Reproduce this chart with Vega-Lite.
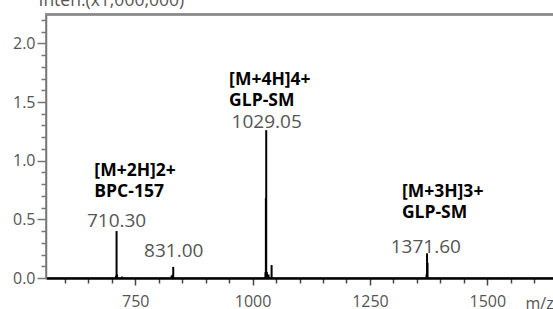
{
  "$schema": "https://vega.github.io/schema/vega-lite/v6.json",
  "width": 508,
  "height": 264,
  "autosize": {"type": "none"},
  "padding": {"left": 46, "top": 14, "right": 0, "bottom": 31},
  "background": "white",
  "view": {"stroke": "#999", "strokeWidth": 2},
  "config": {"font": "Open Sans"},
  "resolve": {"axis": {"x": "independent"}},
  "datasets": {
    "peaks": [
      {"mz": 709.3, "intensity": 0.02},
      {"mz": 710.3, "intensity": 0.40},
      {"mz": 711.3, "intensity": 0.03},
      {"mz": 722, "intensity": 0.012},
      {"mz": 827.5, "intensity": 0.02},
      {"mz": 829.5, "intensity": 0.028},
      {"mz": 831.0, "intensity": 0.095},
      {"mz": 1027.5, "intensity": 0.05},
      {"mz": 1028.3, "intensity": 0.68},
      {"mz": 1029.05, "intensity": 1.26},
      {"mz": 1030.5, "intensity": 0.05},
      {"mz": 1034, "intensity": 0.03},
      {"mz": 1040.5, "intensity": 0.11},
      {"mz": 1370.5, "intensity": 0.03},
      {"mz": 1371.6, "intensity": 0.21},
      {"mz": 1372.6, "intensity": 0.13}
    ],
    "border": [
      {"mz": 560, "mz2": 1642, "intensity": 2.243}
    ],
    "peakLabels": [
      {"mz": 710.3, "intensity": 0.435, "text": "710.30"},
      {"mz": 832, "intensity": 0.179, "text": "831.00"},
      {"mz": 1030, "intensity": 1.279, "text": "1029.05"},
      {"mz": 1369, "intensity": 0.213, "text": "1371.60"}
    ],
    "annotations": [
      {"mz": 663, "intensity": 0.87, "text": "[M+2H]2+"},
      {"mz": 663, "intensity": 0.69, "text": "BPC-157"},
      {"mz": 950, "intensity": 1.645, "text": "[M+4H]4+"},
      {"mz": 950, "intensity": 1.466, "text": "GLP-SM"},
      {"mz": 1318, "intensity": 0.69, "text": "[M+3H]3+"},
      {"mz": 1318, "intensity": 0.51, "text": "GLP-SM"}
    ]
  },
  "layer": [
    {
      "data": {"name": "peaks"},
      "mark": {"type": "rule", "color": "black", "strokeWidth": 2},
      "encoding": {
        "x": {
          "field": "mz",
          "type": "quantitative",
          "scale": {"domain": [560, 1642], "nice": false, "zero": false},
          "axis": {
            "values": [600, 650, 700, 750, 800, 850, 900, 950, 1000, 1050, 1100, 1150, 1200, 1250, 1300, 1350, 1400, 1450, 1500, 1550, 1600],
            "tickCount": 100,
            "labelExpr": "datum.value % 250 === 0 ? datum.label : ''",
            "format": "d",
            "labelOverlap": false,
            "labelFlush": false,
            "grid": false,
            "tickSize": {"condition": {"test": "datum.value % 250 === 0", "value": 7}, "value": 5},
            "tickWidth": 1.5,
            "tickColor": "#444",
            "domainColor": "black",
            "domainWidth": 2.5,
            "labelFontSize": 16,
            "labelColor": "#555",
            "labelPadding": 8,
            "title": "m/z",
            "titleX": 479,
            "titleY": 17,
            "titleAnchor": null,
            "titleAlign": "left",
            "titleBaseline": "top",
            "titleFontWeight": "normal",
            "titleFontSize": 16,
            "titleColor": "#555"
          }
        },
        "y": {
          "field": "intensity",
          "type": "quantitative",
          "scale": {"domain": [0, 2.25], "nice": false},
          "axis": {
            "values": [0, 0.1, 0.2, 0.3, 0.4, 0.5, 0.6, 0.7, 0.8, 0.9, 1, 1.1, 1.2, 1.3, 1.4, 1.5, 1.6, 1.7, 1.8, 1.9, 2, 2.1, 2.2],
            "tickCount": 100,
            "labelExpr": "round(datum.value * 10) % 5 === 0 ? format(datum.value, '.1f') : ''",
            "labelOverlap": false,
            "labelFlush": false,
            "grid": false,
            "tickSize": {"condition": {"test": "round(datum.value * 10) % 5 === 0", "value": 9}, "value": 5},
            "tickColor": "#777",
            "tickWidth": 1.5,
            "domainColor": "#777",
            "domainWidth": 1.5,
            "labelFontSize": 16,
            "labelColor": "#555",
            "labelPadding": 2,
            "title": "Inten.(x1,000,000)",
            "titleAngle": 0,
            "titleAlign": "left",
            "titleBaseline": "alphabetic",
            "titleX": -8,
            "titleY": -9,
            "titleFontWeight": "normal",
            "titleFontSize": 17.5,
            "titleColor": "#555"
          }
        },
        "y2": {"datum": 0}
      }
    },
    {
      "data": {"name": "border"},
      "mark": {"type": "rule", "color": "#888", "strokeWidth": 2},
      "encoding": {
        "x": {"field": "mz", "type": "quantitative", "axis": null},
        "x2": {"field": "mz2"},
        "y": {"field": "intensity", "type": "quantitative"}
      }
    },
    {
      "data": {"name": "peakLabels"},
      "mark": {"type": "text", "font": "Open Sans", "fontSize": 19, "color": "#555", "align": "center", "baseline": "alphabetic"},
      "encoding": {
        "x": {
          "field": "mz",
          "type": "quantitative",
          "axis": {"orient": "top", "domain": true, "domainColor": "#999", "domainWidth": 2, "ticks": false, "labels": false, "grid": false, "title": null}
        },
        "y": {"field": "intensity", "type": "quantitative"},
        "text": {"field": "text"}
      }
    },
    {
      "data": {"name": "annotations"},
      "mark": {"type": "text", "font": "Open Sans", "fontSize": 17.5, "fontWeight": "bold", "color": "black", "align": "left", "baseline": "alphabetic"},
      "encoding": {
        "x": {"field": "mz", "type": "quantitative", "axis": null},
        "y": {"field": "intensity", "type": "quantitative"},
        "text": {"field": "text"}
      }
    }
  ]
}
